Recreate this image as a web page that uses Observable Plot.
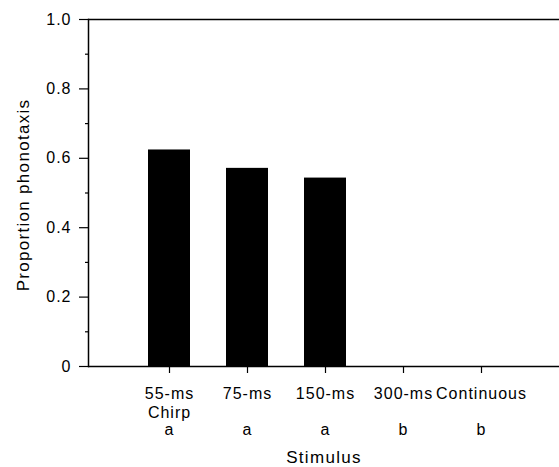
<!DOCTYPE html>
<html>
<head>
<meta charset="utf-8">
<script src="https://cdn.jsdelivr.net/npm/d3@7"></script>
<script src="https://cdn.jsdelivr.net/npm/@observablehq/plot@0.6"></script>
<style>
  html, body { margin: 0; padding: 0; background: #fff; }
  #chart svg { display: block; }
</style>
</head>
<body>
<div id="chart"></div>
<script>
const stimuli = ["55-ms", "75-ms", "150-ms", "300-ms", "Continuous"];
const subLabels = ["Chirp", "", "", "", ""];
const groups = ["a", "a", "a", "b", "b"];
const proportions = [0.624, 0.571, 0.543, 0, 0];
const yTicks = [0, 0.2, 0.4, 0.6, 0.8, 1.0];
const yMinorTicks = [0.1, 0.3, 0.5, 0.7, 0.9];
const yLabel = "Proportion phonotaxis";
const xLabel = "Stimulus";

const data = stimuli.map((s, i) => ({stimulus: s, value: proportions[i]}));
const font = "'Liberation Sans', Arial, Helvetica, sans-serif";

const chart = Plot.plot({
  width: 559,
  height: 467,
  marginTop: 19,
  marginBottom: 101,
  marginLeft: 88,
  marginRight: 0,
  style: {fontFamily: font, fontSize: "16px", color: "#000", background: "#fff", letterSpacing: "1px"},
  x: {domain: stimuli, range: [130, 520], paddingInner: 0.46, paddingOuter: 0.23, axis: null},
  y: {domain: [0, 1], axis: null},
  marks: [
    Plot.barY(data, {x: "stimulus", y: "value", fill: "#000"}),
    Plot.ruleY([0, 1], {stroke: "#000", strokeWidth: 1.5}),
    Plot.frame({anchor: "left", stroke: "#000", strokeWidth: 1.5}),
    Plot.axisY({ticks: yTicks, tickSize: 9, tickPadding: 8, strokeWidth: 1.2,
      tickFormat: d => d === 0 ? "0" : d.toFixed(1), fontSize: 16, label: null}),
    Plot.axisY({ticks: yMinorTicks, tickSize: 3, tickFormat: () => "", strokeWidth: 1.2, label: null}),
    Plot.axisX({tickSize: 7, tickPadding: 12, strokeWidth: 1.2, fontSize: 16, lineHeight: 1.19,
      tickFormat: (d, i) => { const k = stimuli.indexOf(d); return subLabels[k] ? d + "\n" + subLabels[k] : d; },
      label: null}),
    Plot.axisX({tickSize: 0, tickPadding: 57, fontSize: 16,
      tickFormat: d => groups[stimuli.indexOf(d)], label: null}),
    Plot.text([xLabel], {frameAnchor: "bottom", dy: 91, fontSize: 17, lineAnchor: "middle", textAnchor: "middle"}),
    Plot.text([yLabel], {frameAnchor: "left", rotate: -90, dx: -65, dy: 2, fontSize: 17, lineAnchor: "middle", textAnchor: "middle"})
  ]
});
chart.querySelectorAll("text").forEach(t => {
  if (t.textContent === xLabel || t.textContent === yLabel) t.style.letterSpacing = "1.3px";
});
document.getElementById("chart").appendChild(chart);
</script>
</body>
</html>
